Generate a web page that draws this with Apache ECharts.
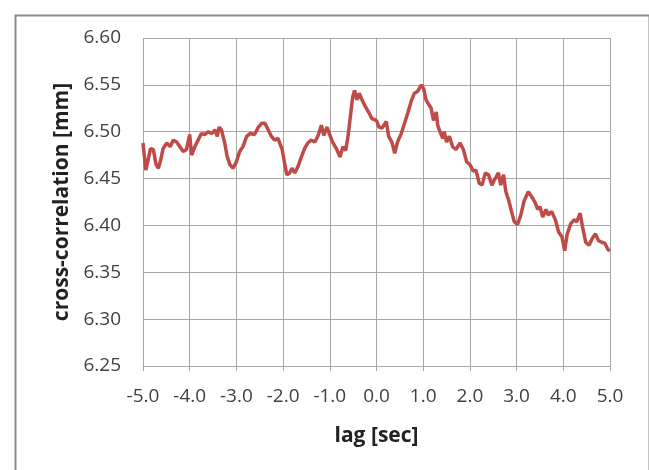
<!DOCTYPE html>
<html>
<head>
<meta charset="utf-8">
<script src="https://cdn.jsdelivr.net/npm/echarts@6/dist/echarts.min.js"></script>
<style>html,body{margin:0;padding:0;background:#fff}#c{width:649px;height:470px}</style>
</head>
<body>
<div id="c"></div>
<script>
const lag = [-5.00,-4.94,-4.89,-4.84,-4.78,-4.72,-4.67,-4.62,-4.57,-4.49,-4.42,-4.35,-4.28,-4.21,-4.14,-4.07,-4.00,-3.96,-3.89,-3.82,-3.75,-3.68,-3.60,-3.53,-3.46,-3.41,-3.37,-3.32,-3.25,-3.20,-3.14,-3.07,-3.00,-2.93,-2.86,-2.78,-2.71,-2.61,-2.54,-2.46,-2.39,-2.32,-2.25,-2.18,-2.11,-2.07,-2.02,-1.97,-1.92,-1.86,-1.81,-1.75,-1.68,-1.61,-1.54,-1.47,-1.40,-1.32,-1.25,-1.18,-1.13,-1.06,-1.01,-0.94,-0.86,-0.78,-0.72,-0.66,-0.61,-0.56,-0.51,-0.47,-0.42,-0.37,-0.31,-0.24,-0.17,-0.10,0.00,0.05,0.12,0.21,0.26,0.33,0.39,0.45,0.53,0.60,0.67,0.74,0.81,0.88,0.96,1.01,1.06,1.12,1.17,1.22,1.28,1.31,1.36,1.42,1.45,1.50,1.56,1.63,1.70,1.79,1.86,1.93,2.00,2.07,2.13,2.20,2.26,2.33,2.40,2.47,2.54,2.61,2.66,2.72,2.77,2.83,2.88,2.95,3.02,3.09,3.16,3.25,3.32,3.40,3.45,3.50,3.56,3.63,3.68,3.75,3.83,3.90,3.97,4.03,4.08,4.16,4.23,4.29,4.36,4.41,4.48,4.55,4.62,4.69,4.75,4.82,4.89,4.96,5.00];
const crossCorr = [6.488,6.459,6.470,6.482,6.481,6.465,6.461,6.470,6.482,6.488,6.484,6.491,6.489,6.484,6.479,6.481,6.497,6.475,6.484,6.491,6.498,6.497,6.500,6.498,6.502,6.495,6.505,6.502,6.488,6.474,6.465,6.461,6.468,6.479,6.484,6.495,6.498,6.497,6.504,6.509,6.509,6.502,6.495,6.491,6.493,6.495,6.481,6.467,6.454,6.456,6.461,6.456,6.463,6.473,6.482,6.488,6.491,6.489,6.496,6.507,6.496,6.505,6.498,6.489,6.482,6.473,6.484,6.480,6.495,6.516,6.537,6.544,6.534,6.541,6.534,6.527,6.521,6.514,6.512,6.505,6.504,6.511,6.495,6.489,6.477,6.489,6.498,6.509,6.520,6.532,6.541,6.543,6.550,6.546,6.534,6.529,6.525,6.512,6.521,6.507,6.500,6.493,6.500,6.489,6.495,6.484,6.481,6.488,6.481,6.468,6.465,6.458,6.459,6.445,6.443,6.456,6.454,6.443,6.450,6.456,6.443,6.454,6.436,6.427,6.417,6.404,6.401,6.411,6.426,6.436,6.431,6.424,6.417,6.420,6.409,6.417,6.411,6.415,6.406,6.393,6.388,6.373,6.390,6.402,6.406,6.404,6.413,6.399,6.382,6.379,6.386,6.391,6.384,6.382,6.381,6.374,6.373];
const xTitle = 'lag [sec]';
const yTitle = 'cross-correlation [mm]';

const chart = echarts.init(document.getElementById('c'), null, {renderer: 'canvas'});
const font = '"Open Sans", "Liberation Sans", sans-serif';
chart.setOption({
  animation: false,
  backgroundColor: '#ffffff',
  graphic: [{
    type: 'rect', left: 13, top: 13, silent: true,
    shape: {width: 634, height: 470},
    style: {fill: 'none', stroke: '#8c8c8c', lineWidth: 2}
  }],
  grid: {left: 143, right: 39, top: 38, bottom: 104, containLabel: false},
  xAxis: {
    type: 'value', min: -5, max: 5, interval: 1,
    name: xTitle, nameLocation: 'middle', nameGap: 60,
    nameTextStyle: {fontFamily: font, fontSize: 21, fontWeight: 'bold', color: '#222'},
    axisLine: {show: true, onZero: false, lineStyle: {color: '#a6a6a6', width: 1}},
    axisTick: {show: true, length: 5, lineStyle: {color: '#a6a6a6'}},
    axisLabel: {fontFamily: font, fontSize: 19, color: '#404040', margin: 21,
      formatter: v => v.toFixed(1)},
    splitLine: {show: true, lineStyle: {color: '#a6a6a6', width: 1}}
  },
  yAxis: {
    type: 'value', min: 6.25, max: 6.60, interval: 0.05,
    name: yTitle, nameLocation: 'middle', nameGap: 78,
    nameTextStyle: {fontFamily: font, fontSize: 21, fontWeight: 'bold', color: '#222', verticalAlign: 'middle'},
    axisLine: {show: true, lineStyle: {color: '#a6a6a6', width: 1}},
    axisTick: {show: true, length: 6, lineStyle: {color: '#a6a6a6'}},
    axisLabel: {fontFamily: font, fontSize: 19, color: '#404040', margin: 22,
      formatter: v => v.toFixed(2)},
    splitLine: {show: true, lineStyle: {color: '#a6a6a6', width: 1}}
  },
  series: [{
    type: 'line',
    data: lag.map((x, i) => [x, crossCorr[i]]),
    showSymbol: false,
    smooth: false,
    lineStyle: {color: '#be4b48', width: 3.5},
    itemStyle: {color: '#be4b48'}
  }]
});
</script>
</body>
</html>
